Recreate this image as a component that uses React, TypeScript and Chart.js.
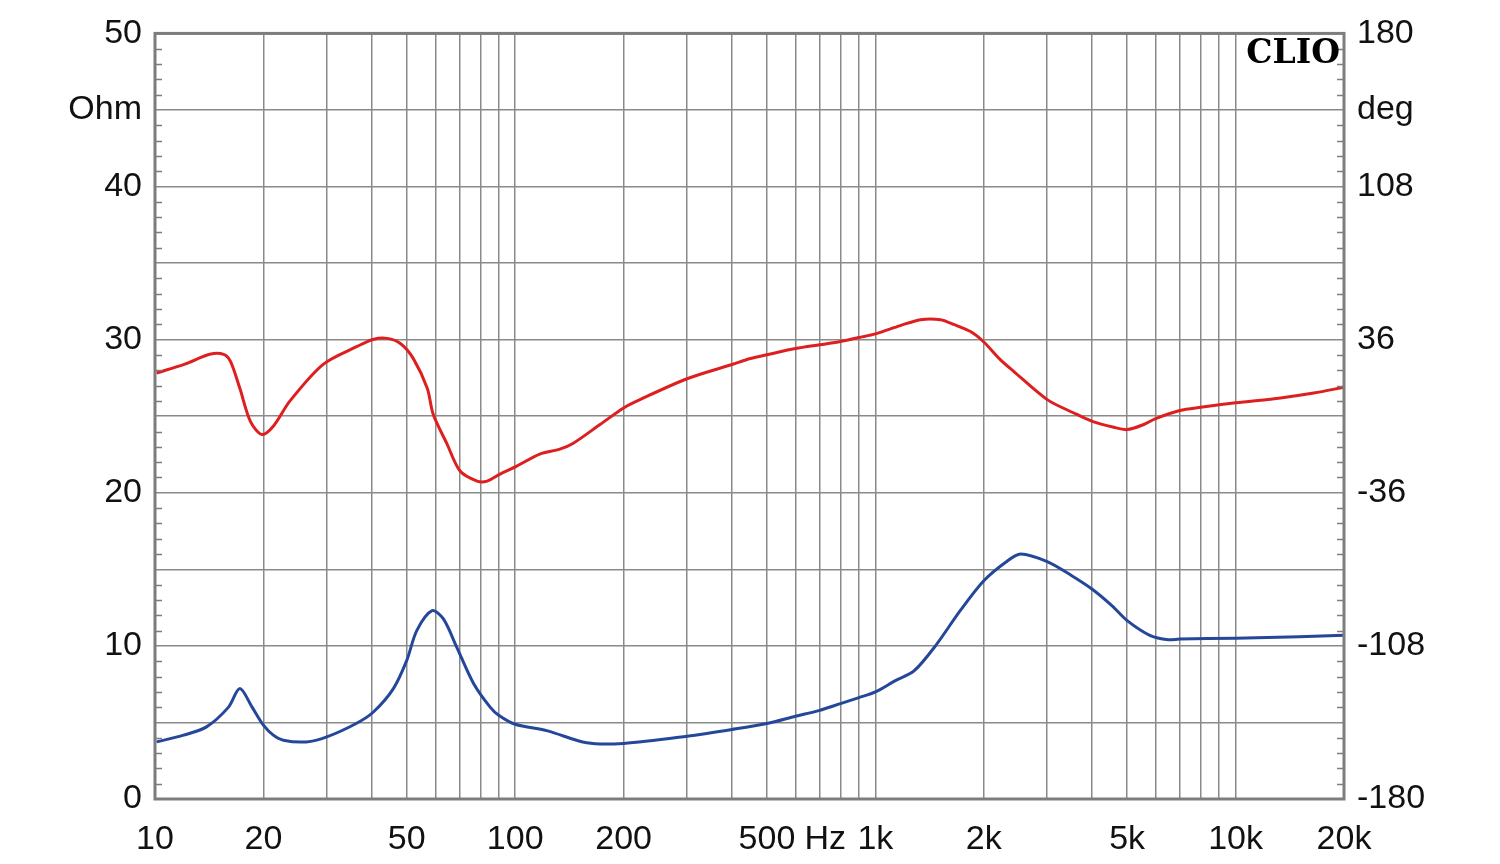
import React, { useEffect, useRef } from 'react';
import { Chart, registerables } from 'chart.js';

Chart.register(...registerables);

// ---- data ----
const impFreq = [10.1, 12.0, 13.9, 16.0, 17.2, 18.6, 20.0, 21.3, 22.7, 26.3, 30.0, 36.3, 40.4, 45.9, 50, 53.3, 58.8, 63.2, 68.8, 76.7, 85.2, 90, 100, 123, 158, 200, 300, 400, 500, 600, 700, 800, 900, 1000, 1140, 1280, 1470, 1720, 2000, 2300, 2530, 3000, 3500, 4000, 4550, 5000, 5800, 6500, 7000, 10000, 15000, 20000];
const impOhm = [3.73, 4.17, 4.71, 6.0, 7.21, 6.0, 4.82, 4.17, 3.84, 3.73, 4.06, 4.95, 5.68, 7.21, 9.05, 11.0, 12.3, 11.76, 9.92, 7.53, 6.0, 5.47, 4.88, 4.45, 3.67, 3.63, 4.1, 4.54, 4.93, 5.4, 5.79, 6.23, 6.62, 6.99, 7.75, 8.36, 10.02, 12.3, 14.25, 15.46, 16.0, 15.5, 14.6, 13.7, 12.6, 11.65, 10.67, 10.4, 10.45, 10.5, 10.6, 10.7];

const phaseFreq = [10.1, 12.1, 14.2, 15.5, 16.2, 17.2, 18.4, 19.8, 21.3, 23.7, 29.3, 36.4, 40.3, 44.1, 48.0, 52.1, 57.0, 59.2, 64.7, 70.3, 78.4, 83.6, 90.8, 101, 117, 133, 145, 172, 200, 222, 300, 400, 450, 500, 600, 700, 800, 900, 1000, 1172, 1334, 1517, 1648, 1837, 2000, 2222, 2420, 3000, 3557, 4000, 4590, 5000, 5560, 6000, 7000, 8000, 10000, 13335, 16480, 20000];
const phaseDeg = [20.3, 24.5, 29.1, 29.1, 25.8, 13.1, -2.4, -8.6, -4.7, 7.2, 24.4, 32.8, 36.1, 36.6, 34.2, 27.2, 13.1, 0.9, -13.1, -25.8, -30.5, -30.5, -27.2, -23.5, -17.8, -15.5, -12.7, -3.9, 3.9, 7.8, 17.6, 24.3, 27.1, 28.9, 31.8, 33.6, 35.1, 37.0, 38.7, 42.6, 45.4, 45.4, 43.2, 39.8, 34.9, 26.6, 21.1, 7.8, 1.5, -2.4, -5.2, -6.3, -3.9, -1.1, 2.7, 4.2, 6.3, 8.6, 10.9, 13.6];

const xGridValues = [10, 20, 30, 40, 50, 60, 70, 80, 90, 100, 200, 300, 400, 500, 600, 700, 800, 900, 1000, 2000, 3000, 4000, 5000, 6000, 7000, 8000, 9000, 10000, 20000];
const xTickLabels: Record<number, string> = { 10: '10', 20: '20', 50: '50', 100: '100', 200: '200', 500: '500', 1000: '1k', 2000: '2k', 5000: '5k', 10000: '10k', 20000: '20k' };
const hzLabelAt = 726;
const leftTickLabels: Record<number, string> = { 50: '50', 45: 'Ohm', 40: '40', 30: '30', 20: '20', 10: '10', 0: '0' };
const rightTickLabels: Record<string, string> = { '180': '180', '144': 'deg', '108': '108', '36': '36', '-36': '-36', '-108': '-108', '-180': '-180' };

const GRID = '#8a8a8a';
const FRAME = '#7d7d7d';
const FONT = '"Liberation Sans", Arial, sans-serif';

const minorTicks = {
  id: 'minorTicks',
  afterDatasetsDraw(chart: any) {
    const { ctx, chartArea } = chart;
    const y = chart.scales.y;
    ctx.save();
    ctx.strokeStyle = FRAME;
    ctx.lineWidth = 1.5;
    for (let v = 0; v <= 50; v += 1) {
      if (v % 5 === 0) continue;
      const py = Math.round(y.getPixelForValue(v)) + 0.5;
      ctx.beginPath();
      ctx.moveTo(chartArea.left, py);
      ctx.lineTo(chartArea.left + 7, py);
      ctx.moveTo(chartArea.right, py);
      ctx.lineTo(chartArea.right - 7, py);
      ctx.stroke();
    }
    ctx.restore();
  },
};

const frame = {
  id: 'frame',
  afterDraw(chart: any) {
    const { ctx, chartArea } = chart;
    ctx.save();
    ctx.strokeStyle = FRAME;
    ctx.lineWidth = 3;
    ctx.strokeRect(chartArea.left, chartArea.top, chartArea.right - chartArea.left, chartArea.bottom - chartArea.top);
    ctx.fillStyle = '#000';
    ctx.font = 'bold 33px "DejaVu Serif", "Liberation Serif", serif';
    ctx.textAlign = 'right';
    ctx.textBaseline = 'alphabetic';
    ctx.fillText('CLIO', chartArea.right - 4, chartArea.top + 30);
    ctx.restore();
  },
};

export default function App() {
  const ref = useRef<HTMLCanvasElement | null>(null);
  useEffect(() => {
    if (!ref.current) return;
    const chart = new Chart(ref.current, {
      type: 'line',
      data: {
        datasets: [
          {
            label: 'Phase',
            data: phaseFreq.map((f, i) => ({ x: f, y: phaseDeg[i] })),
            borderColor: '#de1f1f',
            borderWidth: 3,
            pointRadius: 0,
            tension: 0.3,
            yAxisID: 'y2',
          },
          {
            label: 'Impedance',
            data: impFreq.map((f, i) => ({ x: f, y: impOhm[i] })),
            borderColor: '#25479a',
            borderWidth: 3,
            pointRadius: 0,
            tension: 0.3,
            yAxisID: 'y',
          },
        ],
      },
      options: {
        animation: false,
        responsive: false,
        layout: { padding: { top: 31, left: 0, right: 0, bottom: 0 } },
        plugins: { legend: { display: false }, tooltip: { enabled: false } },
        scales: {
          x: {
            type: 'logarithmic',
            min: 10,
            max: 20000,
            afterBuildTicks: (s: any) => {
              s.ticks = [...xGridValues, hzLabelAt].sort((a, b) => a - b).map((v) => ({ value: v }));
            },
            afterFit: (s: any) => { s.height = 65; },
            border: { display: false },
            grid: {
              color: (c: any) => (c.tick && c.tick.value === hzLabelAt ? 'rgba(0,0,0,0)' : GRID),
              lineWidth: 1.5,
              drawTicks: false,
            },
            ticks: {
              autoSkip: false,
              maxRotation: 0,
              padding: 20,
              color: '#111',
              font: { family: FONT, size: 34 },
              callback: (v: any) => (v === hzLabelAt ? 'Hz' : xTickLabels[v] ?? ''),
            },
          },
          y: {
            type: 'linear',
            position: 'left',
            min: 0,
            max: 50,
            afterFit: (s: any) => { s.width = 155; },
            border: { display: false },
            grid: { color: GRID, lineWidth: 1.5, drawTicks: false },
            ticks: {
              stepSize: 5,
              padding: 13,
              color: '#111',
              font: { family: FONT, size: 34 },
              callback: (v: any) => leftTickLabels[v] ?? '',
            },
          },
          y2: {
            type: 'linear',
            position: 'right',
            min: -180,
            max: 180,
            afterFit: (s: any) => { s.width = 156; },
            border: { display: false },
            grid: { drawOnChartArea: false, drawTicks: false },
            ticks: {
              stepSize: 36,
              padding: 13,
              color: '#111',
              font: { family: FONT, size: 34 },
              callback: (v: any) => rightTickLabels[String(v)] ?? '',
            },
          },
        },
      },
      plugins: [minorTicks, frame],
    } as any);
    return () => chart.destroy();
  }, []);
  return (
    <div style={{ position: 'absolute', left: 0, top: 0, width: 1500, height: 864, background: '#fff' }}>
      <canvas ref={ref} width={1500} height={864} />
    </div>
  );
}
